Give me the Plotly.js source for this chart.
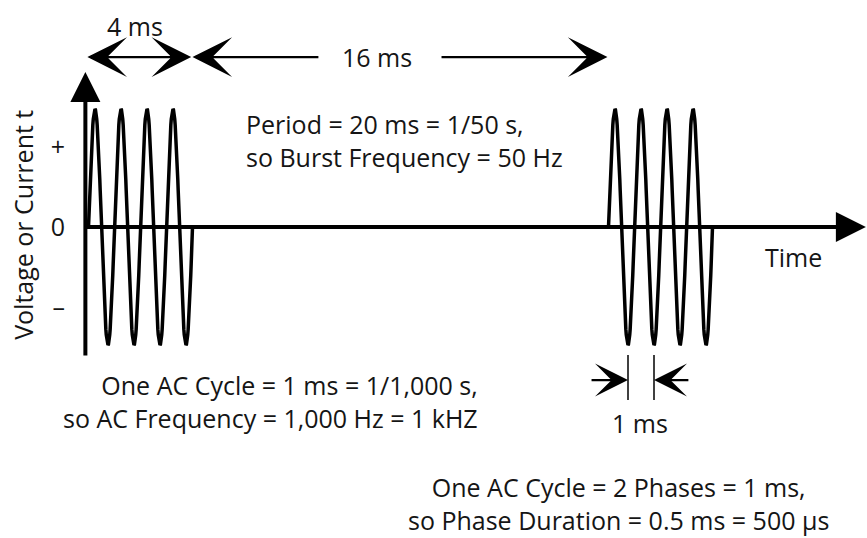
<!DOCTYPE html>
<html><head><meta charset="utf-8">
<script src="https://cdn.plot.ly/plotly-3.0.1.min.js"></script>
<style>html,body{margin:0;padding:0;background:#fff}</style>
</head><body><div id="chart" style="width:867px;height:538px"></div>
<script>
// ---- data (ms) ----
const burstStartsMs = [0, 20];
const burstDurationMs = 4;
const acCycleMs = 1;
const cyclesPerBurst = 4;
const amplitude = [1];
const yTickVals = [0.678, 0, -0.678];
const yTickText = ['+', '0', '\u2013'];
const yLabel = 'Voltage or Current t';
const xLabel = 'Time';
const labelBurst = '4 ms';
const labelGap = '16 ms';
const labelPeriod = ['Period = 20 ms = 1/50 s,', 'so Burst Frequency = 50 Hz'];
const labelAC = ['One AC Cycle = 1 ms = 1/1,000 s,', 'so AC Frequency = 1,000 Hz = 1 kHZ'];
const labelCycle = '1 ms';
const labelPhase = ['One AC Cycle = 2 Phases = 1 ms,', 'so Phase Duration = 0.5 ms = 500 \u00b5s'];

// waveform of the bursts (sine of the stated AC cycle)
const wx = [], wy = [];
const stepsPerCycle = 60;
burstStartsMs.forEach(function (s) {
  const n = cyclesPerBurst * stepsPerCycle;
  for (let i = 0; i <= n; i++) {
    const t = i * acCycleMs / stepsPerCycle;
    wx.push(s + t);
    wy.push(amplitude[0] * Math.sin(2 * Math.PI * t / acCycleMs));
  }
  wx.push(null); wy.push(null);
});

const FONT = 'Open Sans, Noto Sans, sans-serif';
const TXT = '#151515';
const FS = 25;

function txt(text, x, y, extra) {
  return Object.assign({text: text, x: x, y: y, xref: 'x', yref: 'y', showarrow: false,
    font: {family: FONT, size: FS, color: TXT}, xanchor: 'center', yanchor: 'middle'}, extra || {});
}
function arrow(x, y, ax, ay, head, width, size, extra) {
  return Object.assign({text: '', x: x, y: y, ax: ax, ay: ay, xref: 'x', yref: 'y', axref: 'x', ayref: 'y',
    showarrow: true, arrowhead: head, arrowwidth: width, arrowsize: size, arrowcolor: '#000', standoff: 0, startstandoff: 0}, extra || {});
}

const b0 = burstStartsMs[0], b1 = burstStartsMs[1];
const axisX = b0 - 0.12;
const armY = 1.44;
const cycY = -1.297;
const m1 = b1 + 0.75 * acCycleMs, m2 = m1 + acCycleMs;

const annotations = [
  // axes
  arrow(axisX, 1.3136, axisX, -1.102, 2, 4, 1.5),
  arrow(29.9, 0, axisX, 0, 2, 4, 1.5),
  // 4 ms double arrow
  arrow(b0 + burstDurationMs - 0.05, armY, axisX + 0.02, armY, 3, 2.2, 3, {arrowside: 'end+start', startarrowhead: 3, startarrowsize: 3}),
  // 16 ms arrows
  arrow(b0 + burstDurationMs, armY, 8.9, armY, 3, 2.2, 3),
  arrow(b1 - 0.04, armY, 13.52, armY, 3, 2.2, 3),
  // 1 ms arrows
  arrow(m1, cycY, 19.29, cycY, 3, 2.2, 2.5),
  arrow(m2, cycY, 23.13, cycY, 3, 2.2, 2.5),
  // texts
  txt(labelBurst, 1.79, 1.70),
  txt(labelGap, 11.1, 1.44),
  txt(labelPeriod.join('<br>'), 5.98, 0.73, {xanchor: 'left', align: 'left'}),
  txt(xLabel, 27.1, -0.25),
  txt(labelAC.join('<br>'), 15.05, -1.48, {xanchor: 'right', align: 'right'}),
  txt(labelCycle, 21.2, -1.665),
  txt(labelPhase.join('<br>'), 20.37, -2.34, {align: 'center'}),
  txt(yLabel, -2.55, 0.02, {textangle: -90})
];

const shapes = [m1, m2].map(function (m) {
  return {type: 'line', xref: 'x', yref: 'y', x0: m, x1: m, y0: -1.085, y1: -1.466, line: {color: '#000', width: 1.5}};
});

const trace = {x: wx, y: wy, mode: 'lines', line: {color: '#000', width: 3.5, shape: 'linear'}, hoverinfo: 'skip', connectgaps: false};

const layout = {
  width: 867, height: 538,
  margin: {l: 0, r: 0, t: 0, b: 0, pad: 0},
  paper_bgcolor: '#fff', plot_bgcolor: '#fff',
  showlegend: false,
  xaxis: {range: [-88.5 / 26, (867 - 88.5) / 26], visible: false, fixedrange: true},
  yaxis: {range: [(227 - 538) / 118, 227 / 118], fixedrange: true,
    anchor: 'free', position: 0.098, showgrid: false, zeroline: false, showline: false, ticks: '',
    tickvals: yTickVals, ticktext: yTickText, ticklabelstandoff: 20,
    tickfont: {family: FONT, size: FS, color: TXT}},
  annotations: annotations,
  shapes: shapes,
  font: {family: FONT}
};

Plotly.newPlot('chart', [trace], layout, {staticPlot: true, displayModeBar: false});
</script></body></html>
